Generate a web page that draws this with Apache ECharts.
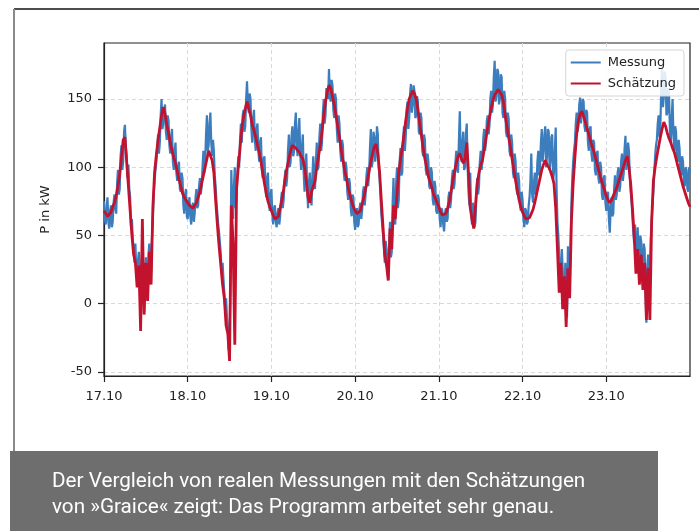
<!DOCTYPE html>
<html>
<head>
<meta charset="utf-8">
<script src="https://cdn.jsdelivr.net/npm/echarts@6/dist/echarts.min.js"></script>
<style>
html,body{margin:0;padding:0;background:#fff;}
#chart{width:699px;height:531px;}
</style>
</head>
<body>
<div id="chart"></div>
<script>
// ---- data ----
// hours since 17.10 00:00; one value per sampling step
const MESSUNG_STEP_HOURS = 0.25;
const SCHAETZUNG_STEP_HOURS = 0.5;
const xTickValues = [0, 24, 48, 72, 96, 120, 144];
const xTickLabels = ['17.10', '18.10', '19.10', '20.10', '21.10', '22.10', '23.10'];
const yTickValues = [-50, 0, 50, 100, 150];
const seriesNames = ['Messung', 'Schätzung'];
const captionLines = [
  'Der Vergleich von realen Messungen mit den Schätzungen',
  'von »Graice« zeigt: Das Programm arbeitet sehr genau.'
];

const messung = [
  // 17.10
  75,62,58,70,78,60,55,68, 72,56,60,74,80,70,66,88, 98,80,84,108,116,98,104,126, 131,115,108,92,102,84,78,56,
  62,48,40,30,44,24,18,32, 38,14,6,28,42,10,-6,20, 34,4,12,36,44,18,22,48, 62,80,90,98,104,114,124,110,
  118,138,150,128,132,140,146,126, 120,138,134,116,110,122,128,104, 98,112,118,96,90,100,104,84, 82,96,92,72,66,80,84,64,
  // 18.10
  62,72,78,64,58,70,74,60, 66,78,84,70,72,86,92,80, 86,100,112,96,104,124,138,112, 116,132,140,118,108,120,112,94,
  86,74,66,58,52,44,36,22, 30,18,8,-4,4,-10,-18,-34, -30,20,98,74,62,86,100,70, 78,96,108,100,120,132,118,138,
  142,126,130,150,163,146,140,154, 150,128,118,136,142,120,112,128, 132,112,104,118,122,98,92,106, 108,86,78,92,96,76,68,80,
  // 19.10
  84,66,58,70,72,60,56,66, 70,58,64,76,82,70,76,90, 98,86,92,112,124,100,104,122, 130,108,112,132,140,116,108,126,
  136,110,98,114,124,96,82,100, 110,84,70,88,96,78,72,94, 108,90,84,104,118,98,100,122, 132,112,118,140,150,132,138,158,
  156,150,172,152,148,164,160,142, 136,154,150,128,118,138,132,112, 104,120,116,96,90,104,100,82, 76,92,88,70,64,80,78,60,
  // 20.10
  54,66,70,56,58,70,74,62, 68,82,86,72,80,94,100,86, 96,114,128,100,104,126,122,104, 112,130,124,100,92,80,66,58,
  50,40,30,46,40,24,18,44, 60,34,38,74,92,64,58,88, 100,70,76,104,114,94,96,120, 130,112,122,142,148,128,136,154,
  161,140,146,160,156,136,138,152, 148,126,124,140,136,112,108,124, 120,98,94,110,104,86,84,100, 96,76,72,90,86,68,66,80,
  // 21.10
  76,62,56,70,68,58,53,66, 70,60,62,78,82,70,76,92, 98,84,88,104,112,98,96,120, 141,110,104,118,126,98,100,124,
  132,100,82,72,96,66,58,74, 68,56,60,80,92,80,86,104, 112,98,104,122,128,112,118,134, 138,124,130,150,156,140,146,166,
  178,148,152,172,170,146,150,168, 166,140,136,156,150,126,122,140, 136,112,108,124,118,96,92,110, 104,84,80,96,90,72,68,82,
  // 22.10
  76,62,56,70,68,58,60,72, 78,90,110,80,74,88,96,80, 86,104,112,94,100,118,128,104, 112,124,130,100,108,128,126,98,
  104,122,124,90,96,112,129,84, 60,50,36,20,8,40,26,4, -2,30,18,-10,42,28,12,40, 74,92,104,112,118,132,140,126,
  130,146,151,132,140,150,148,130, 126,142,140,118,112,128,130,110, 104,120,118,98,94,110,112,92, 88,104,100,80,76,92,94,74,
  // 23.10
  68,80,82,62,52,70,78,64, 66,84,94,76,80,96,100,82, 86,104,110,90,96,114,123,98, 104,118,112,92,82,74,64,52,
  44,58,30,40,56,36,22,50, 46,28,16,44,40,8,-14,26, 36,4,22,48,60,72,82,96, 108,116,120,132,138,122,130,156,
  174,144,152,170,166,138,140,158, 152,126,118,136,150,124,112,130, 126,106,104,120,114,96,94,108, 104,88,86,100,98,84,82,100,
  // 24.10 00:00
  96
];

const schaetzung = [
  68,66,64,64,67,71,74,79, 86,95,107,120,122,104,86,68, 50,36,30,12,28,-20,62,-8, 30,2,38,14,70,96,109,120, 129,138,144,139,131,125,118,112, 107,103,97,91,86,81,78,76,
  74,72,71,70,71,74,78,82, 88,94,100,106,112,112,105,96, 76,58,42,28,14,4,-16,-22, -42,72,45,-30,84,100,114,128, 137,143,148,147,138,131,127,122, 116,111,104,96,88,81,75,71,
  68,65,62,61,64,70,76,84, 93,100,106,112,116,117,114,113, 111,108,106,100,90,78,74,82, 86,90,100,108,116,126,138,148, 155,160,158,152,146,138,130,122, 113,105,98,92,85,80,75,71,
  68,66,66,68,73,78,84,90, 97,104,110,115,117,110,97,76, 56,36,28,17,55,40,72,62, 80,96,106,114,124,134,143,150, 153,156,154,150,142,132,123,114, 106,100,93,89,85,80,77,74,
  71,67,65,64,66,70,75,82, 90,97,103,108,110,106,103,106, 118,96,70,62,55,72,88,96, 102,105,113,121,129,136,143,149, 153,155,157,158,153,148,138,130, 122,115,106,98,90,83,76,71,
  67,64,62,61,63,66,69,74, 80,86,92,98,102,105,102,100, 97,93,88,70,40,8,30,-4, 20,-17,26,4,60,88,107,124, 134,139,141,140,133,128,124,119, 115,111,106,101,96,91,87,83,
  79,76,74,76,79,82,85,89, 93,97,101,105,108,100,88,70, 50,22,40,14,36,10,30,-12, 26,-12,60,90,100,108,115,122, 128,133,130,125,121,118,114,111, 106,101,96,91,86,82,78,74,
  71
];

function toPairs(values, step) {
  return values.map((v, i) => [i * step, v]);
}

const FONT = 'DejaVu Sans';
const chart = echarts.init(document.getElementById('chart'), null, {renderer: 'canvas'});

chart.setOption({
  animation: false,
  backgroundColor: '#ffffff',
  grid: {
    left: 104, top: 43, right: 9, bottom: 155,
    show: true, borderColor: '#222', borderWidth: 1.2, backgroundColor: 'transparent'
  },
  legend: {
    data: seriesNames,
    orient: 'vertical',
    right: 15, top: 50,
    icon: 'rect',
    itemWidth: 30, itemHeight: 2, itemGap: 8,
    padding: [6, 8, 6, 5],
    backgroundColor: 'rgba(255,255,255,0.85)',
    borderColor: '#d4d4d4', borderWidth: 1, borderRadius: 3,
    textStyle: {fontFamily: FONT, fontSize: 13, color: '#222', padding: [0, 0, 0, 2]}
  },
  xAxis: {
    type: 'value', min: 0, max: 168,
    axisLine: {show: true, onZero: false, lineStyle: {color: '#222', width: 1.2}},
    axisTick: {show: true, length: 6, lineStyle: {color: '#222', width: 1.2}, customValues: xTickValues},
    axisLabel: {
      customValues: xTickValues, margin: 14,
      fontFamily: FONT, fontSize: 13, color: '#222',
      formatter: v => { const k = xTickValues.indexOf(v); return k >= 0 ? xTickLabels[k] : ''; }
    },
    splitLine: {show: true, lineStyle: {color: '#d9d9d9', width: 1, type: [4, 3]}}
  },
  yAxis: {
    type: 'value', min: -53, max: 191,
    name: 'P in kW', nameLocation: 'middle', nameRotate: 90, nameGap: 52,
    nameTextStyle: {fontFamily: FONT, fontSize: 13, color: '#222'},
    axisLine: {show: true, onZero: false, lineStyle: {color: '#222', width: 1.2}},
    axisTick: {show: true, length: 6, lineStyle: {color: '#222', width: 1.2}, customValues: yTickValues},
    axisLabel: {customValues: yTickValues, margin: 12, fontFamily: FONT, fontSize: 13, color: '#222'},
    splitLine: {show: true, lineStyle: {color: '#d9d9d9', width: 1, type: [4, 3]}}
  },
  series: [
    {
      name: seriesNames[0], type: 'line', data: toPairs(messung, MESSUNG_STEP_HOURS),
      symbol: 'none', showSymbol: false, z: 2,
      lineStyle: {color: '#3b7dbd', width: 2.2},
      itemStyle: {color: '#3b7dbd'}
    },
    {
      name: seriesNames[1], type: 'line', data: toPairs(schaetzung, SCHAETZUNG_STEP_HOURS),
      symbol: 'none', showSymbol: false, z: 3,
      lineStyle: {color: '#c3122e', width: 2.8},
      itemStyle: {color: '#c3122e'}
    }
  ],
  graphic: [
    {type: 'line', shape: {x1: 14, y1: 9, x2: 699, y2: 9}, style: {stroke: '#111', lineWidth: 1.5}, silent: true},
    {type: 'line', shape: {x1: 14, y1: 9, x2: 14, y2: 451}, style: {stroke: '#8a8a8a', lineWidth: 2}, silent: true},
    {type: 'rect', shape: {x: 10, y: 451, width: 648, height: 80}, style: {fill: '#6e6e6e'}, silent: true},
    {type: 'text', x: 52, y: 482, style: {text: captionLines[0], fill: '#ffffff', font: '20.7px Roboto', verticalAlign: 'middle'}, silent: true},
    {type: 'text', x: 52, y: 508, style: {text: captionLines[1], fill: '#ffffff', font: '20.7px Roboto', verticalAlign: 'middle'}, silent: true}
  ]
});
</script>
</body>
</html>
